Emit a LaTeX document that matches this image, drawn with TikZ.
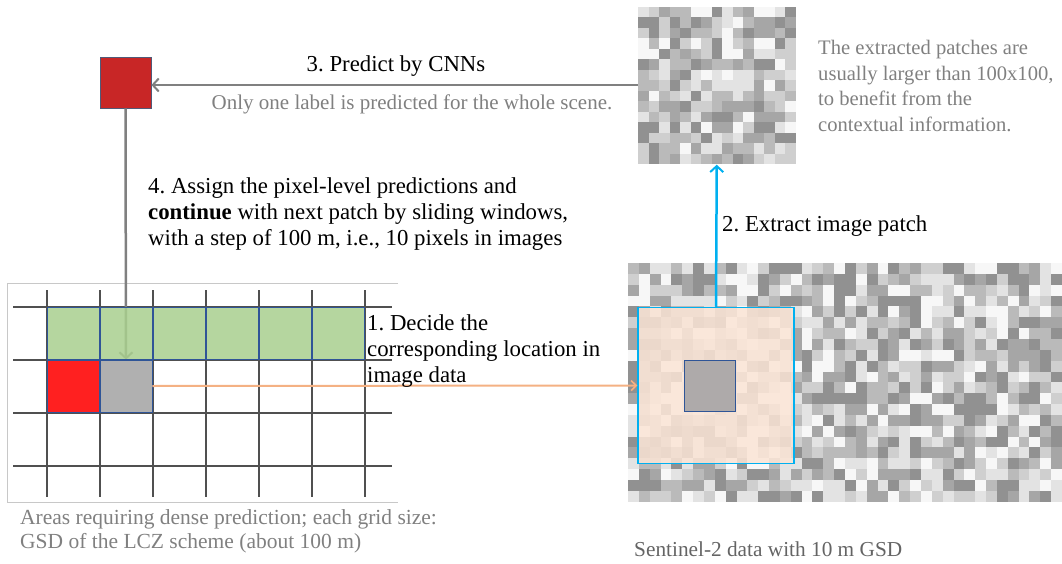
\documentclass[tikz,border=0pt]{standalone}
\usepackage{fontspec}
\setmainfont{Liberation Serif}
\definecolor{predred}{RGB}{200, 38, 38}
\definecolor{predframe}{RGB}{80, 90, 120}
\definecolor{cellgreen}{RGB}{168, 207, 142}
\definecolor{cellred}{RGB}{255, 32, 32}
\definecolor{cellgray}{RGB}{176, 176, 176}
\definecolor{cellblue}{RGB}{47, 85, 151}
\definecolor{gridgray}{RGB}{80, 80, 80}
\definecolor{framegray}{RGB}{200, 200, 200}
\definecolor{linkgray}{RGB}{128, 128, 128}
\definecolor{linkblue}{RGB}{0, 176, 240}
\definecolor{linkorange}{RGB}{244, 177, 131}
\definecolor{peach}{RGB}{251, 229, 214}
\definecolor{innergray}{RGB}{174, 170, 170}
\definecolor{notegray}{RGB}{128, 128, 128}
\definecolor{capgray}{RGB}{100, 100, 100}
\usetikzlibrary{arrows.meta}
\frenchspacing

% blocky grey picture: x0, y0, columns, rows, pixel size
\newcommand{\pixmosaic}[5]{%
  \foreach \i in {1,...,#3}{
    \foreach \j in {1,...,#4}{
      \pgfmathsetmacro{\g}{int(3+8*random(0,5))}
      \fill[black!\g] ({#1+(\i-1)*#5}, {#2+(\j-1)*#5}) rectangle +(#5, #5);
    }
  }
}

\begin{document}
\begin{tikzpicture}[x=1pt, y=-1pt,
    txt/.style={align=left, inner sep=0pt, font=\fontsize{22.8}{26}\selectfont},
    note/.style={align=left, inner sep=0pt, text=notegray, font=\fontsize{21}{24}\selectfont},
    cell/.style={draw=cellblue, line width=0.8pt, minimum size=52pt, inner sep=0pt},
    gridline/.style={draw=gridgray, line width=2pt},
    link/.style={line width=2.5pt, -{Straight Barb[length=6pt, width=13pt, line width=2pt]}}]
  \useasboundingbox (0, 0) rectangle (1062, 564);
  \pgfmathsetseed{4711}

  % Left: area to be predicted
  \draw[framegray, line width=0.8pt] (398, 283) -- (7, 283) -- (7, 502) -- (398, 502);
  \foreach \k in {0,...,6}
    \draw[gridline] ({46.5+53*\k}, 290) -- ({46.5+53*\k}, 497);
  \foreach \k in {0,...,3}
    \draw[gridline] (13, {306.5+53*\k}) -- (392, {306.5+53*\k});

  \node[cell, fill=cellred] (c0) at (73, 386) {};
  \node[cell, fill=cellgray] (c1) at (126, 386) {};

  % Predicted scene label
  \node[draw=predframe, fill=predred, line width=0.8pt, minimum size=51pt] (pred) at (125.5, 82.5) {};
  \draw[link, linkgray] (pred.south) -- (c1.north);

  \foreach \k in {0,...,5}
    \node[cell, fill=cellgreen, fill opacity=0.85] (g\k) at ({73+53*\k}, 333) {};

  % Right: Sentinel-2 scene
  \pixmosaic{628}{263}{40}{22}{10.85}
  \node[minimum width=434pt, minimum height=239pt] (s2) at (845, 382.5) {};
  \node[draw=linkblue, line width=1.5pt, fill=peach, fill opacity=0.85, minimum size=156pt] (win) at (716, 385.5) {};
  \node[draw=cellblue, line width=0.8pt, fill=innergray, minimum size=51pt] (inner) at (710, 386) {};

  % Extracted patch
  \pixmosaic{638}{7}{15}{15}{10.5}
  \node[minimum size=157.5pt] (patch) at (716.75, 85.75) {};

  % Connectors
  \draw[link, linkgray] (patch.west |- 0, 85) -- (pred.east |- 0, 85);
  \draw[link, linkblue] (win.north) -- (patch.south);
  \draw[linkorange, line width=2pt, -{Straight Barb[length=5pt, width=10pt, line width=1.6pt]}] (c1.east) -- (win.west);

  % Labels
  \node[txt, anchor=base] (lbl3) at (396, 72) {3. Predict by CNNs};
  \node[note, anchor=base] (lbl3b) at (412, 110) {Only one label is predicted for the whole scene.};
  \node[txt, anchor=north west] (lbl4) at (148, 177) {4. Assign the pixel-level predictions and\\
    \textbf{continue} with next patch by sliding windows,\\
    with a step of 100 m, i.e., 10 pixels in images};
  \node[txt, anchor=north west] (lbl1) at (367, 314) {1. Decide the\\corresponding location in\\image data};
  \node[txt, anchor=north west] (lbl2) at (722, 215) {2. Extract image patch};
  \node[note, font=\fontsize{20.6}{25.7}\selectfont, anchor=north west] (patchnote) at (818, 40) {The extracted patches are\\usually larger than 100x100,\\to benefit from the\\contextual information.};
  \node[note, font=\fontsize{21.5}{24}\selectfont, anchor=north west] (gridcap) at (20, 509) {Areas requiring dense prediction; each grid size:\\GSD of the LCZ scheme (about 100 m)};
  \node[txt, text=capgray, font=\fontsize{21.3}{26}\selectfont, anchor=base west] (s2cap) at (634, 556) {Sentinel-2 data with 10 m GSD};
\end{tikzpicture}
\end{document}
